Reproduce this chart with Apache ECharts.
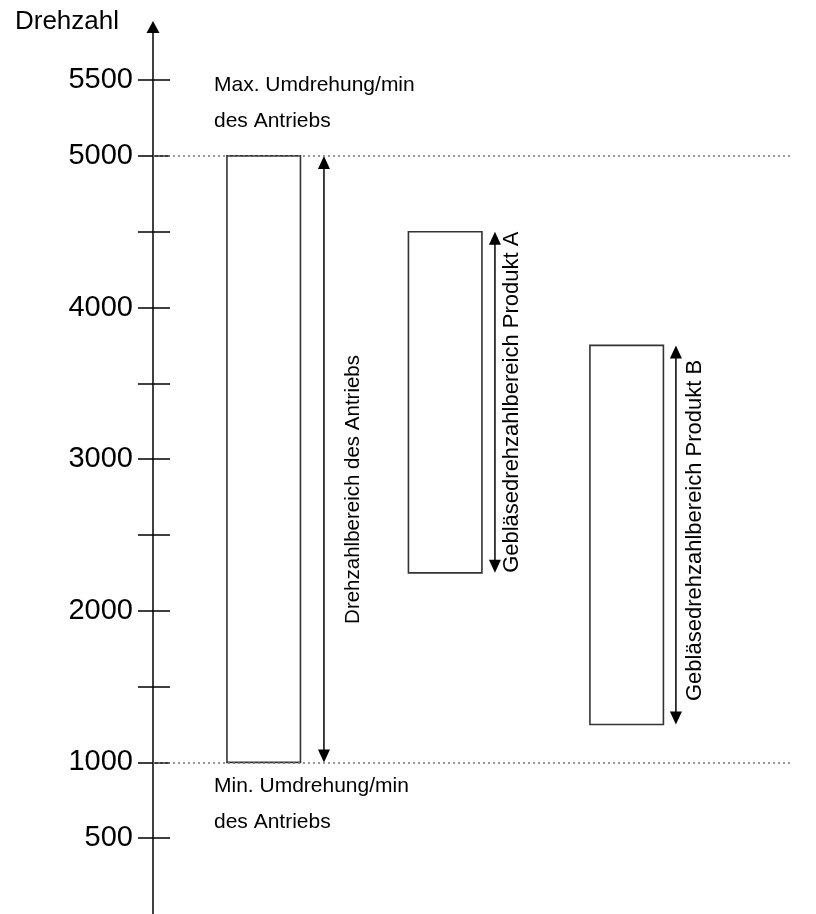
<!DOCTYPE html>
<html>
<head>
<meta charset="utf-8">
<title>Drehzahlbereiche</title>
<script src="https://cdn.jsdelivr.net/npm/echarts@6/dist/echarts.min.js"></script>
<style>
  html, body { margin: 0; padding: 0; background: #fff; }
  #chart { width: 816px; height: 914px; }
</style>
</head>
<body>
<div id="chart"></div>
<script>
// Drehzahlbereiche (U/min)
const rangeNames = ['Drehzahlbereich des Antriebs', 'Gebläsedrehzahlbereich Produkt A', 'Gebläsedrehzahlbereich Produkt B'];
const rangeMin = [1000, 2250, 1250];
const rangeMax = [5000, 4500, 3750];
const labelAt = [2800, 3375, 2530];

// Achsenteilung
const labelTicks = [500, 1000, 2000, 3000, 4000, 5000, 5500];
const allTicks = [500, 1000, 1500, 2000, 2500, 3000, 3500, 4000, 4500, 5000, 5500];

// Grenzen des Antriebs
const limitValues = [5000, 1000];
const limitTexts = [['Max. Umdrehung/min', 'des Antriebs'], ['Min. Umdrehung/min', 'des Antriebs']];

const FONT = "'Liberation Sans', Arial, Helvetica, sans-serif";

const chart = echarts.init(document.getElementById('chart'), null, { renderer: 'canvas' });

// Abstand Pfeil / Beschriftung (px)
const arrowGap = [23.5, 13, 12.5];
const textGap = [29, 17.5, 19.5];
const textSize = [20.5, 22, 22];
const limitOffsets = [[-71, -35], [23.5, 60]];

const option = {
  animation: false,
  textStyle: { fontFamily: FONT, color: '#000' },
  grid: { left: 153, right: 26, top: 27, height: 888.5 },
  xAxis: { type: 'value', min: 0.39, max: 3.9, show: false },
  yAxis: [
    {
      type: 'value',
      min: 0,
      max: 5850,
      position: 'left',
      name: 'Drehzahl',
      nameLocation: 'end',
      nameGap: 5.5,
      nameTextStyle: { fontSize: 26, color: '#000', align: 'right', verticalAlign: 'middle', padding: [0, 34, 0, 0], fontFamily: FONT },
      axisLine: {
        show: true,
        symbol: ['none', 'triangle'],
        symbolSize: [13, 12],
        lineStyle: { color: '#000', width: 1.5 }
      },
      axisTick: { show: true, customValues: allTicks, length: 15, lineStyle: { color: '#000', width: 1.5 } },
      axisLabel: {
        customValues: labelTicks,
        formatter: v => String(v),
        fontSize: 29,
        color: '#000',
        margin: 20,
        fontFamily: FONT
      },
      splitLine: { show: false }
    },
    {
      type: 'value',
      min: 0,
      max: 5850,
      position: 'left',
      axisLine: { show: false },
      axisTick: { show: true, inside: true, customValues: allTicks, length: 17, lineStyle: { color: '#000', width: 1.5 } },
      axisLabel: { show: false },
      splitLine: { show: false }
    }
  ],
  series: [
    {
      // Bereiche mit Doppelpfeil und Beschriftung
      type: 'custom',
      yAxisIndex: 0,
      z: 3,
      data: rangeNames.map((n, i) => [i + 1, rangeMin[i], rangeMax[i], labelAt[i]]),
      renderItem: (params, api) => {
        const i = params.dataIndex;
        const x = api.value(0);
        const lo = api.coord([x, api.value(1)]);
        const hi = api.coord([x, api.value(2)]);
        const mid = api.coord([x, api.value(3)]);
        const w = api.size([0.405, 0])[0];
        const ax = lo[0] + w / 2 + arrowGap[i];
        return {
          type: 'group',
          children: [
            {
              type: 'rect',
              shape: { x: lo[0] - w / 2, y: hi[1], width: w, height: lo[1] - hi[1] },
              style: { fill: 'rgba(255,255,255,0)', stroke: '#333', lineWidth: 1.6 }
            },
            {
              type: 'line',
              shape: { x1: ax, y1: hi[1] + 10, x2: ax, y2: lo[1] - 10 },
              style: { stroke: '#000', lineWidth: 1.5 }
            },
            {
              type: 'polygon',
              shape: { points: [[ax, hi[1]], [ax - 6, hi[1] + 13], [ax + 6, hi[1] + 13]] },
              style: { fill: '#000' }
            },
            {
              type: 'polygon',
              shape: { points: [[ax, lo[1]], [ax - 6, lo[1] - 13], [ax + 6, lo[1] - 13]] },
              style: { fill: '#000' }
            },
            {
              type: 'text',
              x: ax + textGap[i],
              y: mid[1],
              rotation: Math.PI / 2,
              style: {
                text: rangeNames[i],
                font: textSize[i] + 'px ' + FONT,
                fill: '#000',
                align: 'center',
                verticalAlign: 'middle'
              }
            }
          ]
        };
      },
      markLine: {
        silent: true,
        symbol: ['none', 'none'],
        label: { show: false },
        lineStyle: { type: [2, 3], color: '#777', width: 1.5 },
        data: limitValues.map(v => ({ yAxis: v }))
      }
    },
    {
      // Texte an den Grenzen
      type: 'custom',
      yAxisIndex: 0,
      z: 3,
      data: limitValues.map((v, i) => [i, v]),
      renderItem: (params, api) => {
        const i = params.dataIndex;
        const p = api.coord([0.726, api.value(1)]);
        return {
          type: 'group',
          children: limitTexts[i].map((t, k) => ({
            type: 'text',
            x: p[0],
            y: p[1] + limitOffsets[i][k],
            style: { text: t, font: '21px ' + FONT, fill: '#000', align: 'left', verticalAlign: 'middle' }
          }))
        };
      }
    }
  ]
};

chart.setOption(option);
window.addEventListener('resize', () => chart.resize());
</script>
</body>
</html>
